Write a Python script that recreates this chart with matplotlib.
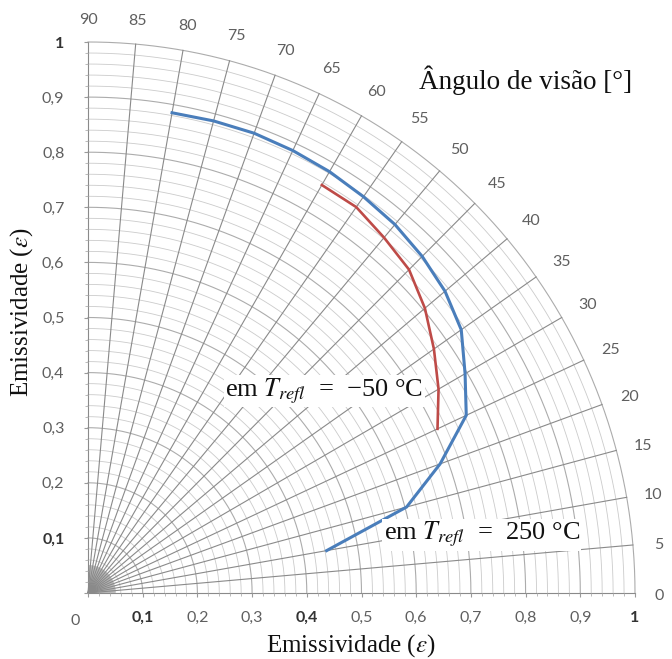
import numpy as np
import matplotlib.pyplot as plt

plt.rcParams['mathtext.fontset'] = 'stix'

# viewing angle [deg] and emissivity for each reflected temperature
angles_250 = [10, 15, 20, 25, 30, 35, 40, 45, 50, 55, 60, 65, 70, 75, 80]
emis_250 = [0.443, 0.603, 0.685, 0.763, 0.796, 0.833, 0.852, 0.864, 0.873,
            0.878, 0.883, 0.886, 0.888, 0.887, 0.885]
angles_m50 = [25, 30, 35, 40, 45, 50, 55, 60]
emis_m50 = [0.705, 0.740, 0.772, 0.804, 0.830, 0.842, 0.855, 0.855]

angle_ticks = list(range(0, 91, 5))
r_ticks = [0, 0.1, 0.2, 0.3, 0.4, 0.5, 0.6, 0.7, 0.8, 0.9, 1.0]


def fmt(v):
    if v == 0:
        return ""
    if v == 1:
        return "1"
    return f"{v:.1f}".replace(".", ",")


fig = plt.figure(figsize=(6.72, 6.59), dpi=100)
ax = fig.add_axes([88 / 672, 66 / 659, 547 / 672, 551 / 659])
ax.set_xlim(0, 1)
ax.set_ylim(0, 1)
for s in ax.spines.values():
    s.set_visible(False)

# polar grid
t = np.linspace(0, np.pi / 2, 300)
for r in np.arange(0.02, 1.001, 0.02):
    major = abs(r * 10 - round(r * 10)) < 1e-6
    ax.plot(r * np.cos(t), r * np.sin(t),
            color="#acacac" if major else "#cbcbcb",
            lw=0.8 if major else 0.6, zorder=1, clip_on=False)
for a in angle_ticks:
    th = np.radians(a)
    ax.plot([0, np.cos(th)], [0, np.sin(th)], color="#8a8a8a", lw=0.8,
            zorder=1.5, clip_on=False)
for a in range(0, 91):
    th = np.radians(a)
    ax.plot([0, 0.05 * np.cos(th)], [0, 0.05 * np.sin(th)],
            color="#b5b5b5", lw=0.5, zorder=1.4)

# data curves
th250 = np.radians(angles_250)
ax.plot(np.array(emis_250) * np.cos(th250), np.array(emis_250) * np.sin(th250),
        color="#4a7ebb", lw=2.2, zorder=3, solid_joinstyle="miter")
thm50 = np.radians(angles_m50)
ax.plot(np.array(emis_m50) * np.cos(thm50), np.array(emis_m50) * np.sin(thm50),
        color="#be4b48", lw=1.9, zorder=3, solid_joinstyle="miter")

# axes ticks
tick_font = dict(family="Lato", size=11.5, color="#5f5f5f")
ax.set_xticks(r_ticks)
ax.set_yticks(r_ticks)
ax.set_xticklabels([fmt(v) for v in r_ticks], **tick_font)
ax.set_yticklabels([fmt(v) for v in r_ticks], **tick_font)
for lab in [ax.get_xticklabels()[1], ax.get_xticklabels()[4],
            ax.get_xticklabels()[10], ax.get_yticklabels()[1],
            ax.get_yticklabels()[10]]:
    lab.set_fontweight("bold")
    lab.set_color("#333333")
# the "0" of the x axis sits a little left of the origin
ax.annotate("0", xy=(0, 0), xytext=(-13, -28), textcoords="offset pixels",
            ha="center", va="center", annotation_clip=False, **tick_font)
ax.set_xticks(np.arange(0, 1.001, 0.02), minor=True)
ax.set_yticks(np.arange(0, 1.001, 0.02), minor=True)
ax.tick_params(which="major", length=3, color="#9a9a9a")
ax.tick_params(axis="y", which="major", pad=14)
ax.tick_params(axis="x", which="major", pad=10)
ax.tick_params(which="minor", length=2, color="#b0b0b0")

# angle labels
for a in angle_ticks:
    th = np.radians(a)
    rr = 1.045 + 0.012 * np.sin(2 * th)
    ax.text(rr * np.cos(th), rr * np.sin(th) - 0.005, str(a), ha="center",
            va="center", clip_on=False, **tick_font)

serif = dict(family="Liberation Serif", size=18, color="#111111")
ax.text(0.80, 0.93, "Ângulo de visão [°]", ha="center", va="center",
        family="Liberation Serif", size=19.5, color="#111111")
ax.set_xlabel(r"Emissividade ($\varepsilon$)", **serif)
ax.set_ylabel(r"Emissividade ($\varepsilon$)", **serif)
ax.xaxis.set_label_coords(0.48, -0.071)
ax.yaxis.set_label_coords(-0.097, 0.51)

note = dict(family="Liberation Serif", size=19, color="#111111")
box = dict(facecolor="white", edgecolor="none", pad=1)
ax.text(0.432, 0.366, "em $T_{refl}$  =  \u221250 °C", ha="center",
        va="center", bbox=box, zorder=4, **note)
ax.text(0.72, 0.106, "em $T_{refl}$  =  250 °C", ha="center", va="center",
        bbox=box, zorder=4, **note)

fig.savefig("out.png", dpi=100)
